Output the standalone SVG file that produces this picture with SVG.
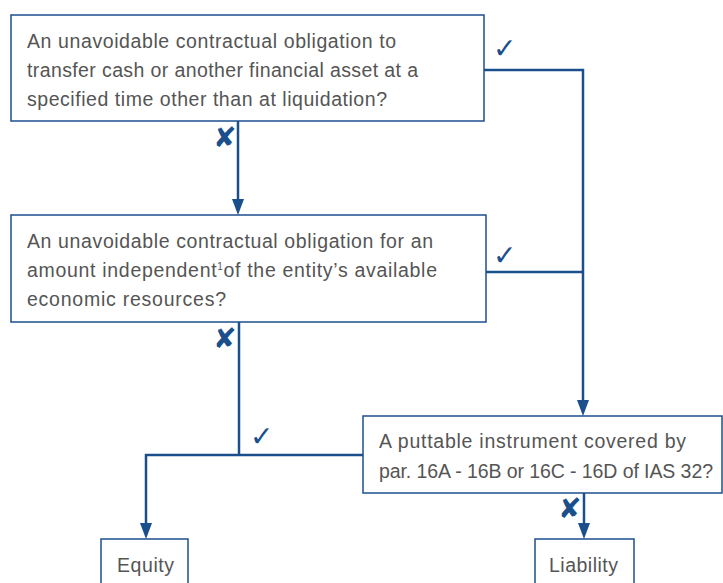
<svg xmlns="http://www.w3.org/2000/svg" width="723" height="583" viewBox="0 0 723 583">
<defs>
<style>
.box{fill:#fff;stroke:#1b4f8c;stroke-width:1.5}
.t{font-family:"Liberation Sans",Arial,sans-serif;font-size:19.5px;fill:#555}
.ln{fill:none;stroke:#1b4f8c;stroke-width:2.5}
.mk{font-family:"DejaVu Sans",sans-serif;font-size:28px;fill:#1b4f8c;font-weight:bold}
.ah{fill:#1b4f8c}
</style>
</defs>
<g id="connectors">
<path class="ln" d="M484,70 H583 V402"/>
<path class="ln" d="M486,272 H583"/>
<path class="ln" d="M238,121 V201"/>
<path class="ln" d="M239,322 V455"/>
<path class="ln" d="M363,455 H146 V525"/>
<path class="ln" d="M584,493 V525"/>
<path class="ah" d="M577,400 L589,400 L583,416 Z"/>
<path class="ah" d="M232,199 L244,199 L238,215 Z"/>
<path class="ah" d="M140,523 L152,523 L146,539 Z"/>
<path class="ah" d="M578,523 L590,523 L584,539 Z"/>
<text class="mk" x="493" y="58">✓</text>
<text class="mk" x="493" y="265">✓</text>
<text class="mk" x="250" y="446">✓</text>
<text class="mk" x="213" y="147">✘</text>
<text class="mk" x="213" y="348">✘</text>
<text class="mk" x="558" y="518">✘</text>
</g>
<g id="q1">
<rect class="box" x="11" y="15" width="473" height="106"/>
<text class="t" x="27" y="48" textLength="369" lengthAdjust="spacing">An unavoidable contractual obligation to</text>
<text class="t" x="27" y="77" textLength="391" lengthAdjust="spacing">transfer cash or another financial asset at a</text>
<text class="t" x="27" y="106" textLength="360" lengthAdjust="spacing">specified time other than at liquidation?</text>
</g>
<g id="q2">
<rect class="box" x="11" y="215" width="475" height="107"/>
<text class="t" x="27" y="248" textLength="406" lengthAdjust="spacing">An unavoidable contractual obligation for an</text>
<text class="t" x="27" y="277" textLength="410" lengthAdjust="spacing">amount independent<tspan font-size="10" dy="-7">1</tspan><tspan dy="7">of the entity’s available</tspan></text>
<text class="t" x="27" y="306" textLength="199" lengthAdjust="spacing">economic resources?</text>
</g>
<g id="q3">
<rect class="box" x="363" y="416" width="359" height="77"/>
<text class="t" x="379" y="448" textLength="307" lengthAdjust="spacing">A puttable instrument covered by</text>
<text class="t" x="379" y="478" textLength="334" lengthAdjust="spacing">par. 16A - 16B or 16C - 16D of IAS 32?</text>
</g>
<g id="equity">
<rect class="box" x="101" y="539" width="87" height="50"/>
<text class="t" x="117" y="572" textLength="57" lengthAdjust="spacing">Equity</text>
</g>
<g id="liability">
<rect class="box" x="535" y="539" width="99" height="50"/>
<text class="t" x="549" y="572" textLength="69" lengthAdjust="spacing">Liability</text>
</g>
</svg>
